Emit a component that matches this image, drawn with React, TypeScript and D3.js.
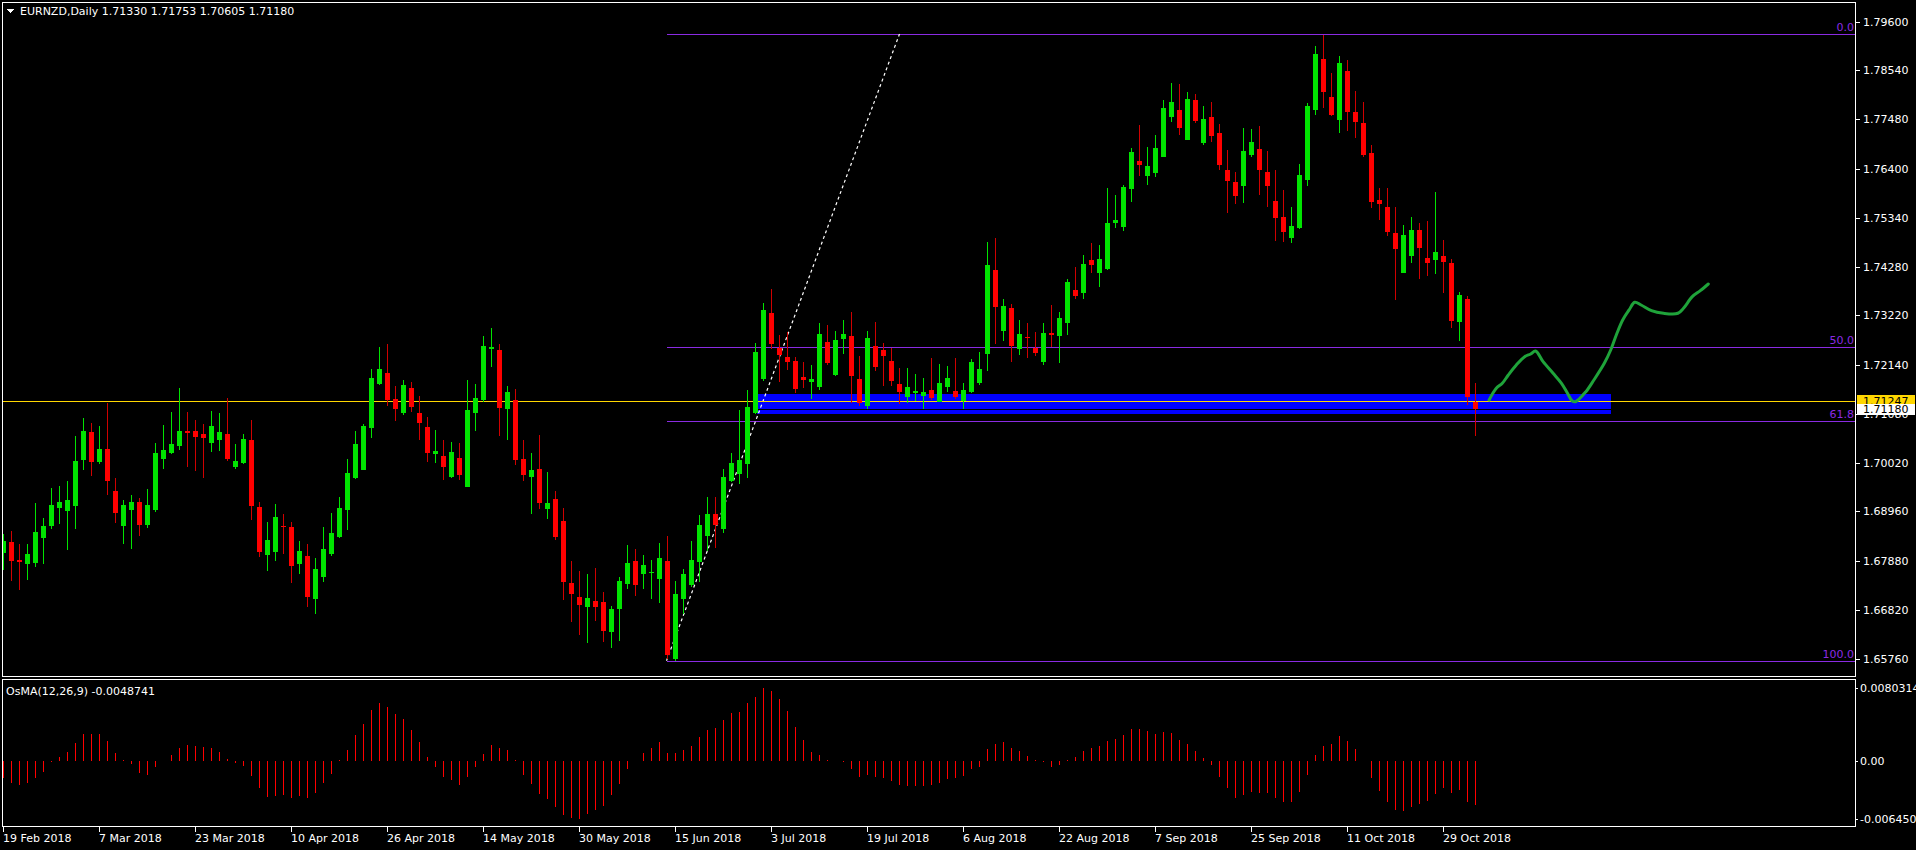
import React from 'react';
import * as d3 from 'd3';

// ---------- DATA ----------
const opens = [
1.68063,1.68289,1.67905,1.67818,1.67846,1.68389,1.68644,1.69041,1.68976,1.69085,
1.70078,1.70686,1.70034,1.70317,1.69404,1.68644,1.68998,1.69165,1.68665,1.68991,
1.70099,1.70230,1.70382,1.70708,1.70708,1.70642,1.70447,1.70512,1.70642,1.69925,
1.70006,1.70512,1.69056,1.68014,1.68079,1.68644,1.68622,1.67818,1.67992,1.67058,
1.67536,1.68035,1.68405,1.68991,1.69686,1.69860,1.70773,1.71735,1.71968,1.71403,
1.71105,1.71642,1.71099,1.70795,1.70214,1.70164,1.69715,1.70121,1.69497,1.71105,
1.71388,1.72489,1.72468,1.71192,1.71381,1.70099,1.69715,1.69882,1.69020,1.69230,
1.68752,1.67405,1.67101,1.66890,1.67014,1.66992,1.66347,1.66847,1.67390,1.67883,
1.67607,1.67629,1.67499,1.67883,1.65761,1.67064,1.67368,1.67868,1.68433,1.68904,
1.68585,1.69628,1.69773,1.69991,1.71099,1.71837,1.73271,1.72511,1.72315,1.72229,
1.71881,1.71772,1.71664,1.72641,1.71924,1.72707,1.72772,1.71837,1.71251,1.72554,
1.72468,1.72229,1.71729,1.71446,1.71533,1.71468,1.71598,1.71338,1.71664,1.71577,
1.71359,1.71555,1.71751,1.72381,1.74206,1.72880,1.73380,1.72489,1.72750,1.72511,
1.72207,1.72837,1.72772,1.73054,1.73771,1.73706,1.74423,1.74141,1.74227,1.75227,
1.75140,1.75966,1.76574,1.76248,1.76313,1.76661,1.77530,1.77682,1.77030,1.77899,
1.76965,1.77530,1.77182,1.76378,1.76118,1.76031,1.76704,1.76835,1.76335,1.75705,
1.75357,1.74901,1.75118,1.76161,1.77682,1.78790,1.77964,1.77465,1.78529,1.77639,
1.77400,1.76748,1.75726,1.75575,1.75010,1.74141,1.74510,1.75075,1.74466,1.74423,
1.74510,1.74358,1.73076,1.73576,1.71330
];
const highs = [
1.68470,1.68535,1.68253,1.68253,1.69143,1.68811,1.69469,1.69513,1.69615,1.70599,
1.70990,1.70881,1.70816,1.71316,1.69687,1.69208,1.69317,1.69252,1.69447,1.70447,
1.70838,1.71120,1.71642,1.71120,1.70947,1.70860,1.71142,1.71099,1.71425,1.70425,
1.70642,1.70947,1.69165,1.68730,1.69122,1.68904,1.68730,1.68318,1.68253,1.67948,
1.68622,1.68926,1.69274,1.70099,1.70708,1.70860,1.72055,1.72533,1.72598,1.71685,
1.71816,1.71772,1.71468,1.71012,1.70729,1.70512,1.70469,1.70447,1.71816,1.71729,
1.72772,1.72946,1.72598,1.71685,1.71620,1.70512,1.70230,1.70621,1.69817,1.69404,
1.69035,1.67883,1.67666,1.67601,1.67731,1.67210,1.66905,1.67536,1.68231,1.68144,
1.68014,1.67905,1.68274,1.68426,1.67449,1.67709,1.68318,1.68883,1.69274,1.69280,
1.69882,1.70230,1.71164,1.71598,1.72620,1.73489,1.73793,1.72793,1.72859,1.72315,
1.72207,1.72142,1.73054,1.73011,1.72880,1.73119,1.73293,1.72337,1.72880,1.73076,
1.72620,1.72511,1.72076,1.72076,1.71946,1.71859,1.72293,1.72163,1.72120,1.72293,
1.71751,1.72272,1.72424,1.74814,1.74901,1.73576,1.73467,1.73119,1.73054,1.72859,
1.73054,1.73445,1.73293,1.74010,1.74271,1.74532,1.74792,1.74749,1.75987,1.75835,
1.76053,1.76856,1.77356,1.76878,1.77139,1.77899,1.78269,1.78247,1.78073,1.78030,
1.77769,1.77856,1.77378,1.76813,1.76335,1.77291,1.77269,1.77334,1.76791,1.76378,
1.75944,1.75575,1.76509,1.77834,1.79073,1.79312,1.78486,1.78855,1.78768,1.78095,
1.77856,1.76922,1.75987,1.75987,1.75575,1.75183,1.75357,1.75227,1.75270,1.75900,
1.74858,1.74445,1.73728,1.73641,1.71753
];
const lows = [
1.67688,1.67455,1.67253,1.67470,1.67759,1.67818,1.68585,1.68687,1.68122,1.68578,
1.69860,1.69730,1.69991,1.69317,1.68709,1.68253,1.68144,1.68426,1.68600,1.68948,
1.69882,1.70208,1.70295,1.69925,1.69839,1.69686,1.70251,1.70273,1.70056,1.69882,
1.69991,1.68774,1.67970,1.67666,1.67883,1.68035,1.67405,1.67601,1.66884,1.66732,
1.67427,1.67992,1.68383,1.68557,1.69665,1.69860,1.70556,1.71714,1.71257,1.70931,
1.71062,1.71127,1.70519,1.70034,1.70019,1.69650,1.69693,1.69650,1.69497,1.70714,
1.71344,1.72105,1.70606,1.70519,1.69975,1.69628,1.68911,1.69020,1.68802,1.68346,
1.67042,1.66564,1.66282,1.66108,1.66586,1.66130,1.65999,1.66151,1.67281,1.67129,
1.67281,1.67064,1.66977,1.65761,1.65717,1.66738,1.67325,1.67433,1.68107,1.68172,
1.68498,1.69606,1.69556,1.69686,1.71077,1.71794,1.72489,1.71772,1.72033,1.71533,
1.71642,1.71403,1.71598,1.72142,1.71903,1.72381,1.71316,1.71251,1.71186,1.72011,
1.71685,1.71685,1.71294,1.71316,1.71359,1.71186,1.71381,1.71338,1.71555,1.71403,
1.71186,1.71533,1.71707,1.72011,1.72598,1.72663,1.72207,1.72359,1.72293,1.72337,
1.72142,1.72533,1.72185,1.72793,1.73576,1.73576,1.74141,1.73836,1.74206,1.75118,
1.75053,1.75683,1.76248,1.76053,1.76226,1.76661,1.77421,1.77139,1.77030,1.77400,
1.76922,1.76987,1.76378,1.75444,1.75640,1.75661,1.76661,1.75835,1.75575,1.74836,
1.74814,1.74792,1.75097,1.76031,1.77573,1.77725,1.77552,1.77182,1.77226,1.77074,
1.76661,1.75553,1.75292,1.74944,1.73554,1.74141,1.74358,1.74010,1.74075,1.74119,
1.73706,1.72946,1.72663,1.71273,1.70605
];
const closes = [
1.68318,1.67890,1.67868,1.68035,1.68513,1.68644,1.69100,1.69165,1.69208,1.70056,
1.70708,1.70041,1.70317,1.69628,1.68933,1.69100,1.69165,1.68665,1.69100,1.70230,
1.70295,1.70425,1.70708,1.70664,1.70577,1.70556,1.70816,1.70686,1.70099,1.70056,
1.70534,1.69078,1.68079,1.68339,1.68839,1.68622,1.67775,1.68100,1.67101,1.67709,
1.68144,1.68492,1.69035,1.69795,1.70425,1.70816,1.71859,1.72055,1.71388,1.71192,
1.71707,1.71236,1.70888,1.70236,1.70273,1.69932,1.70251,1.69758,1.71164,1.71425,
1.72554,1.72533,1.71214,1.71555,1.70084,1.69758,1.69860,1.69150,1.69143,1.68411,
1.67433,1.67173,1.66934,1.67079,1.66890,1.66369,1.66840,1.67449,1.67840,1.67368,
1.67796,1.67644,1.67948,1.65847,1.67166,1.67601,1.67905,1.68665,1.68904,1.68672,
1.69708,1.70012,1.70078,1.71229,1.72424,1.73337,1.72598,1.72359,1.72207,1.71620,
1.71816,1.71837,1.72815,1.72185,1.72685,1.72815,1.71903,1.71316,1.72728,1.72098,
1.72337,1.71794,1.71555,1.71664,1.71577,1.71555,1.71425,1.71751,1.71859,1.71446,
1.71598,1.72207,1.72055,1.74314,1.73402,1.73424,1.72554,1.72815,1.72728,1.72402,
1.72837,1.72793,1.73163,1.73945,1.73641,1.74336,1.74314,1.74445,1.75227,1.75292,
1.76009,1.76769,1.76487,1.76465,1.76856,1.77725,1.77856,1.77291,1.77921,1.77443,
1.77486,1.77117,1.76487,1.76139,1.75814,1.76791,1.76987,1.76378,1.76031,1.75336,
1.75031,1.75162,1.76270,1.77769,1.78899,1.78073,1.77573,1.78703,1.77639,1.77421,
1.76704,1.75683,1.75640,1.75031,1.74662,1.74966,1.75075,1.74684,1.74358,1.74597,
1.74380,1.73098,1.73663,1.71446,1.71180
];

const osma = [
-0.00195,-0.00243,-0.00269,-0.00251,-0.00188,-0.00122,-0.00015,0.00044,0.00096,0.00195,
0.00299,0.00295,0.00299,0.00217,0.00085,0.00011,-0.00041,-0.00133,-0.00158,-0.00066,
-0.00004,0.00063,0.00140,0.00170,0.00166,0.00147,0.00136,0.00100,0.00018,-0.00029,
-0.00059,-0.00170,-0.00306,-0.00398,-0.00391,-0.00383,-0.00409,-0.00391,-0.00409,-0.00354,
-0.00251,-0.00147,0.00010,0.00118,0.00284,0.00405,0.00560,0.00638,0.00590,0.00516,
0.00457,0.00339,0.00210,0.00041,-0.00066,-0.00184,-0.00214,-0.00269,-0.00177,-0.00074,
0.00077,0.00173,0.00140,0.00118,0.00005,-0.00158,-0.00254,-0.00369,-0.00424,-0.00509,
-0.00601,-0.00638,-0.00645,-0.00593,-0.00545,-0.00498,-0.00380,-0.00254,-0.00092,-0.00004,
0.00088,0.00136,0.00210,0.00088,0.00085,0.00118,0.00162,0.00262,0.00339,0.00357,
0.00450,0.00531,0.00542,0.00634,0.00708,0.00803,0.00770,0.00682,0.00549,0.00372,
0.00228,0.00096,0.00063,0.00002,-0.00007,-0.00011,-0.00088,-0.00184,-0.00158,-0.00177,
-0.00188,-0.00221,-0.00269,-0.00276,-0.00276,-0.00276,-0.00273,-0.00243,-0.00203,-0.00195,
-0.00166,-0.00096,-0.00066,0.00129,0.00188,0.00206,0.00140,0.00107,0.00055,0.00003,
-0.00015,-0.00074,-0.00052,0.00011,0.00044,0.00107,0.00140,0.00162,0.00217,0.00240,
0.00284,0.00350,0.00350,0.00332,0.00299,0.00317,0.00310,0.00228,0.00184,0.00111,
0.00029,-0.00044,-0.00177,-0.00299,-0.00409,-0.00380,-0.00350,-0.00354,-0.00361,-0.00409,
-0.00453,-0.00453,-0.00350,-0.00158,0.00063,0.00162,0.00188,0.00273,0.00221,0.00129,
-0.00002,-0.00195,-0.00335,-0.00453,-0.00545,-0.00553,-0.00512,-0.00479,-0.00442,-0.00372,
-0.00306,-0.00354,-0.00324,-0.00453,-0.0048741
];

const dateLabels = ['19 Feb 2018','7 Mar 2018','23 Mar 2018','10 Apr 2018','26 Apr 2018','14 May 2018',
  '30 May 2018','15 Jun 2018','3 Jul 2018','19 Jul 2018','6 Aug 2018','22 Aug 2018','7 Sep 2018',
  '25 Sep 2018','11 Oct 2018','29 Oct 2018'];
const dateLabelBars = [0,12,24,36,48,60,72,84,96,108,120,132,144,156,168,180];

const priceTicks = [1.796,1.7854,1.7748,1.764,1.7534,1.7428,1.7322,1.7214,1.7108,1.7002,1.6896,1.6788,1.6682,1.6576];

const fibLevels = [0, 50, 61.8, 100];
const fibLabels = ['0.0', '50.0', '61.8', '100.0'];
const fibHigh = 1.79333;
const fibLow = 1.65717;
const fibLowBar = 83;
const fibHighBar = 112;

const zoneBars = [94.2, 200.9];
const zonePrices = [1.71512, 1.71077];

const horizLinePrice = 1.7136;
const horizLineLabel = '1.71247';
const bidLabel = '1.71180';

const forecastBars = [185.7,186.6,187.35,188.1,189.1,190.15,190.9,191.5,192.45,193.7,194.75,195.5,196.1,196.5,
  197.8,198.8,200.1,200.9,201.6,202.4,203.2,203.9,204.7,206,207.5,209.3,210,211.1,212.1,213.1];
const forecastPrices = [1.71381,1.71635,1.71744,1.71924,1.72141,1.72322,1.72381,1.72446,1.72213,1.71961,1.71744,
  1.71527,1.71359,1.71344,1.71562,1.71816,1.72178,1.72467,1.72793,1.73119,1.73337,1.73504,1.73445,1.73322,
  1.73265,1.73265,1.73374,1.73626,1.73756,1.73901];

const osmaMax = 0.0080314;
const osmaMin = -0.00645;
const osmaAxisLabels = ['0.0080314', '0.00', '-0.006450'];
const osmaTitle = 'OsMA(12,26,9) -0.0048741';
const headerText = 'EURNZD,Daily  1.71330 1.71753 1.70605 1.71180';

// ---------- LAYOUT ----------
const W = 1916, H = 850;
const L = 2, R = 1856;
const mainTop = 1.5, mainBot = 677;
const oscTop = 679.5, oscBot = 826;

const x = d3.scaleLinear().domain([0, 1]).range([3.5, 11.5]);
const y = d3.scaleLinear().domain([1.6576, 1.796]).range([658.7, 21.7]);
const yo = d3.scaleLinear().domain([osmaMin, osmaMax]).range([819, 688]);

const GREEN = '#00e400';
const RED = '#ff0000';
const FIB = '#8a2be2';
const FONT = '"DejaVu Sans", Verdana, sans-serif';

export default function App() {
  const n = opens.length;
  const fibY = (lv: number) => y(fibHigh - (lv / 100) * (fibHigh - fibLow));
  const forecastLine = d3.line<number>()
    .x((_, i) => x(forecastBars[i]))
    .y((d) => y(d))
    .curve(d3.curveCatmullRom.alpha(0.5));
  const fmt = d3.format('.5f');

  return (
    <svg width={W} height={H} style={{ position: 'absolute', left: 0, top: 0, background: '#000' }}
      fontFamily={FONT} shapeRendering="crispEdges">
      <rect x={0} y={0} width={W} height={H} fill="#000" />
      <defs>
        <clipPath id="mainClip"><rect x={L + 1} y={mainTop + 1} width={R - L - 1} height={mainBot - mainTop - 1} /></clipPath>
        <clipPath id="oscClip"><rect x={L + 1} y={oscTop + 1} width={R - L - 1} height={oscBot - oscTop - 1} /></clipPath>
      </defs>

      {/* main panel */}
      <g clipPath="url(#mainClip)">
        <rect x={x(zoneBars[0])} y={y(zonePrices[0])} width={x(zoneBars[1]) - x(zoneBars[0])}
          height={y(zonePrices[1]) - y(zonePrices[0])} fill="#0000ff" />
        {fibLevels.map((lv, i) => (
          <g key={'f' + i}>
            <line x1={x(fibLowBar) - 1} x2={R} y1={Math.round(fibY(lv)) + 0.5} y2={Math.round(fibY(lv)) + 0.5} stroke={FIB} strokeWidth={1} />
            <text x={R - 2} y={Math.round(fibY(lv)) - 3} fill={FIB} fontSize={11} textAnchor="end">{fibLabels[i]}</text>
          </g>
        ))}
        <line x1={x(fibLowBar) - 1} y1={y(fibLow)} x2={x(fibHighBar)} y2={y(fibHigh)} stroke="#fff" strokeWidth={1.2}
          strokeDasharray="3,3" shapeRendering="auto" />
        <line x1={L} x2={R} y1={Math.round(y(closes[n - 1])) + 0.5} y2={Math.round(y(closes[n - 1])) + 0.5} stroke="#000" strokeWidth={1} />
        <line x1={L} x2={R} y1={Math.round(y(horizLinePrice)) + 0.5} y2={Math.round(y(horizLinePrice)) + 0.5} stroke="#ffd700" strokeWidth={1} />
        {opens.map((o, i) => {
          const c = closes[i];
          const up = c >= o;
          const col = up ? GREEN : RED;
          const cx = x(i);
          const yt = Math.round(y(Math.max(o, c)));
          const yb = Math.round(y(Math.min(o, c)));
          return (
            <g key={'c' + i}>
              <rect x={cx - 0.5} y={Math.round(y(highs[i]))} width={1} height={Math.max(1, Math.round(y(lows[i])) - Math.round(y(highs[i])))} fill={up ? GREEN : '#d00000'} />
              <rect x={cx - 2.5} y={yt} width={5} height={Math.max(1, yb - yt)} fill={col} />
            </g>
          );
        })}
        <path d={forecastLine(forecastPrices) || ''} fill="none" stroke="#1fa33a" strokeWidth={3}
          strokeLinejoin="round" strokeLinecap="round" shapeRendering="auto" />
      </g>

      {/* header */}
      <path d="M6,9 L14,9 L10,13 Z" fill="#fff" />
      <text x={20} y={15} fill="#fff" fontSize={11}>{headerText}</text>

      {/* frames */}
      <rect x={L + 0.5} y={mainTop + 0.5} width={R - L - 1} height={mainBot - mainTop - 1} fill="none" stroke="#fff" strokeWidth={1} />
      <rect x={L + 0.5} y={oscTop} width={R - L - 1} height={oscBot - oscTop} fill="none" stroke="#fff" strokeWidth={1} />

      {/* price axis */}
      {priceTicks.map((p, i) => (
        <g key={'pt' + i}>
          <line x1={R} x2={R + 4} y1={Math.round(y(p)) + 0.5} y2={Math.round(y(p)) + 0.5} stroke="#fff" />
          <text x={R + 7} y={y(p) + 4} fill="#fff" fontSize={11}>{fmt(p)}</text>
        </g>
      ))}
      <rect x={R + 1} y={y(horizLinePrice) - 6} width={58} height={11} fill="#ffd700" />
      <text x={R + 7} y={y(horizLinePrice) + 4} fill="#000" fontSize={11}>{horizLineLabel}</text>
      <rect x={R + 1} y={y(closes[n - 1]) - 5.5} width={58} height={11} fill="#fff" />
      <text x={R + 7} y={y(closes[n - 1]) + 4} fill="#000" fontSize={11}>{bidLabel}</text>

      {/* oscillator */}
      <g clipPath="url(#oscClip)">
        {osma.map((v, i) => (
          <line key={'o' + i} x1={x(i)} x2={x(i)} y1={Math.round(yo(0))} y2={Math.round(yo(v))} stroke="#ff0000" strokeWidth={1} />
        ))}
      </g>
      <text x={6} y={695} fill="#fff" fontSize={11}>{osmaTitle}</text>
      {[osmaMax, 0, osmaMin].map((v, i) => (
        <g key={'ol' + i}>
          <line x1={R} x2={R + 2} y1={Math.round(yo(v)) + 0.5} y2={Math.round(yo(v)) + 0.5} stroke="#fff" />
          <text x={R + 4} y={yo(v) + 4} fill="#fff" fontSize={11}>{osmaAxisLabels[i]}</text>
        </g>
      ))}

      {/* date axis */}
      {dateLabelBars.map((b, i) => (
        <g key={'d' + i}>
          <line x1={Math.round(x(b)) - 0.5} x2={Math.round(x(b)) - 0.5} y1={oscBot} y2={oscBot + 6} stroke="#fff" />
          <text x={Math.round(x(b)) - 1} y={842} fill="#fff" fontSize={11}>{dateLabels[i]}</text>
        </g>
      ))}
    </svg>
  );
}
